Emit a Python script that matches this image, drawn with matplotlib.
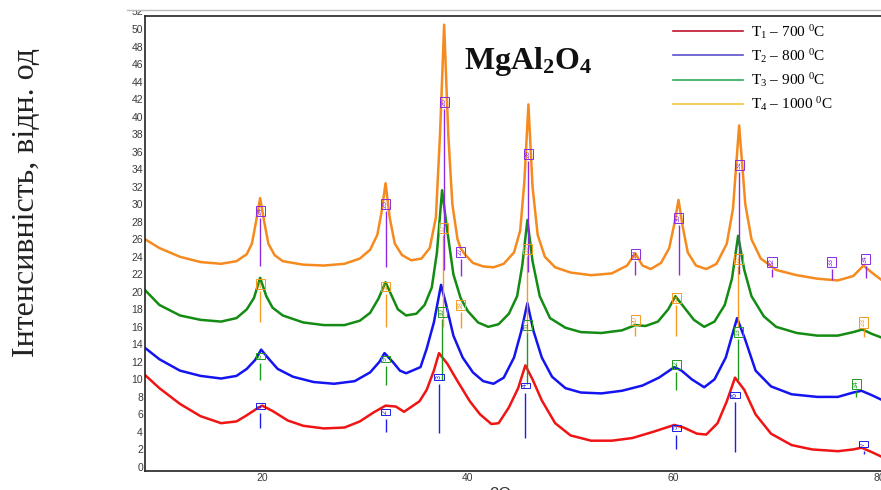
import matplotlib
matplotlib.use("Agg")
import matplotlib.pyplot as plt
from matplotlib.lines import Line2D
from matplotlib.patches import Rectangle

plt.rcParams["font.family"] = ["Liberation Sans", "DejaVu Sans"]
plt.rcParams["mathtext.fontset"] = "custom"
plt.rcParams["mathtext.rm"] = "Liberation Serif"
plt.rcParams["mathtext.it"] = "Liberation Serif:italic"
plt.rcParams["mathtext.bf"] = "Liberation Serif:bold"

# ---- diffraction curves (2theta, intensity) ----
t1_x = [8.6, 10, 12, 14, 16, 17.5, 18.5, 19.4, 20.0, 21, 22.5, 24, 26, 28, 29.5,
        30.8, 32, 33, 33.8, 35.3, 36, 36.7, 37.2, 38, 39, 40.2, 41.2, 42.3, 43,
        44, 44.9, 45.6, 46.3, 47.2, 48.5, 50, 52, 54, 56, 58, 60.1, 61, 62.3,
        63.2, 64.3, 65.2, 66.0, 66.9, 68, 69.5, 71.5, 73.5, 76, 77.5, 78.3,
        79.3, 80.2]
t1_y = [10.5, 9.0, 7.2, 5.8, 5.0, 5.2, 5.9, 6.6, 7.0, 6.4, 5.3, 4.7, 4.4, 4.5,
        5.2, 6.2, 7.0, 6.9, 6.3, 7.5, 8.8, 11.0, 13.0, 11.8, 9.8, 7.5, 6.0, 4.9,
        5.0, 6.8, 9.0, 11.6, 10.0, 7.6, 5.0, 3.6, 3.0, 3.0, 3.3, 4.0, 4.8, 4.5,
        3.8, 3.7, 5.0, 7.5, 10.2, 8.8, 6.0, 3.8, 2.5, 2.0, 1.8, 2.0, 2.2, 1.7,
        1.2]

t2_x = [8.6, 10, 12, 14, 16, 17.5, 18.5, 19.3, 19.9, 20.6, 21.5, 23, 25, 27,
        29, 30.5, 31.4, 31.9, 32.7, 33.4, 34.0, 35.4, 36.0, 36.7, 37.4, 37.9,
        38.6, 39.5, 40.5, 41.5, 42.5, 43.5, 44.5, 45.2, 45.8, 46.4, 47.2, 48.2,
        49.5, 51, 53, 55, 57, 58.6, 60.1, 60.8, 61.8, 63.0, 64, 65.1, 66.2,
        67.0, 68, 69.5, 71.5, 74, 76, 77.5, 78.3, 79.3, 80.2]
t2_y = [13.6, 12.3, 11.0, 10.4, 10.1, 10.4, 11.2, 12.2, 13.4, 12.4, 11.2, 10.3,
        9.7, 9.5, 9.8, 10.8, 12.0, 13.0, 12.0, 11.0, 10.7, 11.4, 13.5, 16.5,
        20.8, 18.5, 15.0, 12.5, 10.8, 9.8, 9.5, 10.2, 12.5, 15.5, 18.7, 15.5,
        12.5, 10.3, 9.0, 8.5, 8.4, 8.7, 9.3, 10.2, 11.4, 11.0, 10.0, 9.1, 10.0,
        12.5, 17.0, 14.5, 11.0, 9.2, 8.3, 8.0, 8.0, 8.5, 8.7, 8.2, 7.7]

t3_x = [8.6, 10, 12, 14, 16, 17.5, 18.5, 19.2, 19.8, 20.4, 21.0, 22, 24, 26, 28,
        29.5, 30.5, 31.3, 32.0, 32.5, 33.2, 34, 35, 35.8, 36.5, 37.0, 37.5,
        38.0, 38.6, 39.3, 40.0, 41.0, 42, 43, 44, 44.8, 45.3, 45.8, 46.3, 47,
        48, 49.5, 51, 53, 55, 56.3, 57.3, 58.5, 59.5, 60.2, 61.0, 62, 63, 64,
        65, 65.7, 66.3, 66.9, 67.6, 68.8, 70, 72, 74, 76, 77.5, 78.4, 79.3,
        80.2]
t3_y = [20.2, 18.5, 17.3, 16.8, 16.6, 17.0, 18.0, 19.3, 21.6, 19.5, 18.2, 17.3,
        16.5, 16.2, 16.2, 16.7, 17.6, 19.2, 21.1, 19.8, 18.0, 17.3, 17.5, 18.5,
        20.5, 24.5, 31.6, 27.0, 22.0, 19.3, 17.8, 16.5, 16.0, 16.3, 17.5, 19.5,
        23.0, 28.2, 23.5, 19.5, 17.0, 15.9, 15.4, 15.3, 15.6, 16.2, 16.1, 16.6,
        18.0, 19.5, 18.3, 16.8, 16.0, 16.6, 18.5, 21.5, 26.4, 22.5, 19.5, 17.2,
        16.0, 15.3, 15.0, 15.0, 15.4, 15.7, 15.2, 14.8]

t4_x = [8.6, 10, 12, 14, 16, 17.5, 18.5, 19.0, 19.4, 19.8, 20.2, 20.6, 21.2, 22,
        24, 26, 28, 29.5, 30.5, 31.2, 31.6, 32.0, 32.4, 32.9, 33.6, 34.5, 35.5,
        36.3, 36.9, 37.3, 37.7, 38.1, 38.5, 39.0, 39.3, 39.7, 40.5, 41.5, 42.5,
        43.5, 44.5, 45.1, 45.5, 45.9, 46.3, 46.8, 47.5, 48.5, 50, 52, 54, 55.5,
        56.3, 57.0, 57.8, 58.8, 59.6, 60.1, 60.5, 60.9, 61.4, 62.2, 63.2, 64.2,
        65.2, 65.8, 66.4, 67.0, 67.6, 68.5, 70, 72, 74, 76, 77.5, 78.5, 79.3,
        80.2]
t4_y = [26.0, 25.0, 24.0, 23.4, 23.2, 23.5, 24.3, 25.5, 28.0, 30.7, 28.0, 25.5,
        24.2, 23.5, 23.1, 23.0, 23.2, 23.8, 24.8, 26.5, 29.0, 32.4, 28.5, 25.5,
        24.2, 23.6, 23.8, 25.0, 28.5, 38.0, 50.5, 38.0, 30.0, 26.0, 25.0, 24.3,
        23.3, 22.9, 22.8, 23.2, 24.5, 27.0, 32.5, 41.4, 32.0, 26.5, 24.0, 22.8,
        22.2, 21.9, 22.1, 23.0, 24.4, 23.0, 22.6, 23.3, 25.0, 27.8, 30.5, 27.5,
        24.5, 23.0, 22.6, 23.2, 25.5, 29.5, 39.0, 30.0, 26.0, 23.8, 22.5, 21.9,
        21.5, 21.3, 21.8, 23.0, 22.2, 21.4]

# ---- reference peak marks: position, label box level, line bottom, label ----
m1_x = [19.8, 32.0, 37.2, 45.6, 60.3, 66.0, 78.5]
m1_top = [7.0, 6.3, 10.3, 9.3, 4.5, 8.2, 2.6]
m1_bot = [4.5, 4.0, 3.9, 3.3, 2.0, 1.7, 1.5]
m1_lab = ["1", "2", "3", "4", "5", "6", "7"]

m2_x = [19.8, 32.0, 37.5, 45.8, 60.3, 66.3, 77.8]
m2_top = [12.7, 12.3, 17.7, 16.2, 11.7, 15.4, 9.5]
m2_bot = [9.9, 9.4, 9.9, 9.5, 8.8, 9.9, 8.0]
m2_lab = ["8", "9", "10", "11", "12", "13", "14"]

m3_x = [19.8, 32.0, 37.6, 39.3, 45.8, 56.3, 60.3, 66.3, 78.5]
m3_top = [20.9, 20.6, 27.3, 18.5, 24.9, 16.8, 19.3, 23.7, 16.5]
m3_bot = [16.5, 16.0, 16.0, 15.9, 15.3, 15.0, 15.0, 16.0, 14.8]
m3_lab = ["15", "16", "17", "18", "19", "20", "21", "22", "23"]

m4_x = [19.8, 32.0, 37.7, 39.3, 45.9, 56.3, 60.5, 66.4, 69.6, 75.4, 78.7]
m4_top = [29.2, 30.0, 41.7, 24.6, 35.7, 24.3, 28.4, 34.5, 23.4, 23.4, 23.7]
m4_bot = [23.0, 22.8, 22.5, 21.8, 22.3, 21.9, 21.9, 22.0, 21.7, 21.3, 21.6]
m4_lab = ["24", "25", "26", "27", "28", "29", "30", "31", "32", "33", "34"]

labels = [r"T$_1$ – 700 $^0$C", r"T$_2$ – 800 $^0$C",
          r"T$_3$ – 900 $^0$C", r"T$_4$ – 1000 $^0$C"]
curve_colors = ["#f01414", "#1414f0", "#148c14", "#f58a1e"]
mark_colors = ["#1e1ee6", "#1e9a1e", "#f59a1e", "#8a2be2"]
legend_colors = ["#c0142d", "#5a50cc", "#2eaa5a", "#f2c43c"]

fig = plt.figure(figsize=(8.81, 4.90), dpi=100)
ax = fig.add_axes([0.1646, 0.0388, 0.8354, 0.9286])

curves = [(t1_x, t1_y), (t2_x, t2_y), (t3_x, t3_y), (t4_x, t4_y)]
marks = [(m1_x, m1_top, m1_bot, m1_lab), (m2_x, m2_top, m2_bot, m2_lab),
         (m3_x, m3_top, m3_bot, m3_lab), (m4_x, m4_top, m4_bot, m4_lab)]

for (cx, cy), col in zip(curves, curve_colors):
    ax.plot(cx, cy, color=col, lw=1.8, zorder=2)

for (mx, mt, mb, ml), col in zip(marks, mark_colors):
    for x, top, bot, lab in zip(mx, mt, mb, ml):
        ax.vlines(x, bot, top - 0.8, color=col, lw=1.0, zorder=3)
        ax.text(x, top, lab, rotation=90, fontsize=5, color=col,
                ha="center", va="center", zorder=4,
                bbox=dict(boxstyle="square,pad=0.15", fc="none", ec=col, lw=0.7))

ax.set_xlim(8.6, 80.2)
ax.set_ylim(-0.46, 51.5)
ax.set_xticks([20, 40, 60, 80])
ax.set_yticks(range(0, 52, 2))
ax.tick_params(axis="both", length=0, labelsize=7.5, labelcolor="#3a3a3a", pad=1.5)
ax.text(-0.003, 52, "52", transform=ax.get_yaxis_transform(), ha="right",
        va="center", fontsize=7.5, color="#3a3a3a", clip_on=False)
for side in ["left", "bottom", "top"]:
    ax.spines[side].set_color("#222222")
    ax.spines[side].set_linewidth(1.2)
ax.spines["right"].set_visible(False)

ax.set_ylabel("Інтенсивність, відн. од", family="Liberation Serif", fontsize=23,
              color="#222222")
ax.yaxis.set_label_coords(-0.142, 0.591)
ax.set_xlabel("2Θ", fontsize=12, color="#333333")
ax.xaxis.set_label_coords(0.483, -0.035)

ax.text(39.6, 45.5, r"$\mathbf{MgAl_2O_4}$", fontsize=23, color="#111111",
        ha="left", va="baseline")

handles = [Line2D([0], [0], color=c, lw=1.2) for c in legend_colors]
ax.legend(handles, labels, loc="upper left", bbox_to_anchor=(0.717, 0.985),
          frameon=False, prop={"family": "Liberation Serif", "size": 11},
          handlelength=4.6, handletextpad=0.55, labelspacing=0.4,
          borderpad=0, borderaxespad=0)

# cropped top border of the original picture
fig.patches.append(Rectangle((0, 1 - 10 / 490), 1, 10 / 490, transform=fig.transFigure,
                             fc="white", ec="none", zorder=10))
fig.lines.append(Line2D([127 / 881, 1], [1 - 10 / 490] * 2, transform=fig.transFigure,
                        color="#bbbbbb", lw=1, zorder=11))

fig.savefig("out.png", dpi=100)
